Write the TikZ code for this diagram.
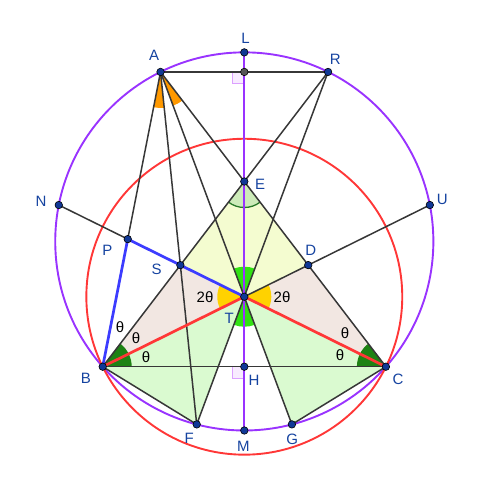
\documentclass[tikz,border=0pt]{standalone}
\usepackage{fontspec}
\setmainfont{Liberation Sans}
\definecolor{lineg}{RGB}{55,55,55}
\definecolor{purp}{RGB}{153,51,255}
\definecolor{redc}{RGB}{255,55,55}
\definecolor{bluel}{RGB}{60,60,255}
\definecolor{ptfill}{RGB}{16,56,150}
\definecolor{lblc}{RGB}{21,67,160}
\definecolor{dgreen}{RGB}{30,130,20}
\definecolor{bgreen}{RGB}{50,225,20}
\definecolor{yel}{RGB}{255,210,0}
\definecolor{oran}{RGB}{255,153,0}
\definecolor{egreen}{RGB}{205,235,185}
\definecolor{earc}{RGB}{40,120,40}
\definecolor{lgreen}{RGB}{218,250,208}
\definecolor{beige}{RGB}{242,231,226}
\definecolor{lyellow}{RGB}{244,252,208}
\definecolor{rafill}{RGB}{248,235,255}
\definecolor{radraw}{RGB}{220,160,255}
\begin{document}
\begin{tikzpicture}[x=1pt,y=1pt,
  seg/.style={draw=lineg,line width=1.5pt},
  blueseg/.style={draw=bluel,line width=2.7pt},
  redseg/.style={draw=redc,line width=2.7pt},
  purpline/.style={draw=purp,line width=1.9pt},
  redcirc/.style={draw=redc,line width=1.9pt},
  pt/.style={circle,draw=black,fill=ptfill,line width=0.6pt,inner sep=0pt,minimum size=7.5pt},
  gpt/.style={circle,draw=black,fill=lineg!85,line width=0.6pt,inner sep=0pt,minimum size=7.5pt},
  lbl/.style={text=lblc,font=\fontsize{15}{17}\selectfont,inner sep=0pt},
  tlbl/.style={text=black,font=\fontsize{15}{17}\selectfont,inner sep=0pt},
  rightang/.style={fill=rafill,draw=radraw,line width=1pt}]
\useasboundingbox (0,0) rectangle (500,492);
% points
\coordinate (A) at (160.53,420.05);
\coordinate (R) at (328.07,420.05);
\coordinate (K) at (244.3,420.05);
\coordinate (L) at (244.3,439.62);
\coordinate (M) at (244.3,61.51);
\coordinate (O) at (244.3,250.57);
\coordinate (B) at (102.7,125.3);
\coordinate (C) at (385.9,125.3);
\coordinate (H) at (244.3,125.3);
\coordinate (T) at (244.3,195.28);
\coordinate (E) at (244.3,310.5);
\coordinate (S) at (180.36,226.88);
\coordinate (D) at (308.24,226.88);
\coordinate (P) at (127.73,252.89);
\coordinate (N) at (58.78,286.97);
\coordinate (U) at (429.82,286.97);
\coordinate (F) at (196.72,67.60);
\coordinate (G) at (291.88,67.60);
% region fills
\fill[lgreen] (B) -- (T) -- (F) -- cycle;
\fill[lgreen] (C) -- (T) -- (G) -- cycle;
\fill[beige] (B) -- (S) -- (T) -- cycle;
\fill[beige] (C) -- (D) -- (T) -- cycle;
\fill[lyellow] (E) -- (S) -- (T) -- (D) -- cycle;
% angle sectors
\fill[dgreen] (B) -- ++(0:29) arc[start angle=0,end angle=52.6,radius=29] -- cycle;
\fill[dgreen] (C) -- ++(127.4:29) arc[start angle=127.4,end angle=180,radius=29] -- cycle;
\fill[egreen] (E) -- ++(232.6:26) arc[start angle=232.6,end angle=307.4,radius=26] -- cycle;
\draw[earc,line width=1.3pt] ([shift={(232.6:26)}]E) arc[start angle=232.6,end angle=307.4,radius=26];
\fill[yel] (T) -- ++(153.7:27) arc[start angle=153.7,end angle=206.3,radius=27] -- cycle;
\fill[yel] (T) -- ++(-26.3:27) arc[start angle=-26.3,end angle=26.3,radius=27] -- cycle;
\fill[bgreen] (T) -- ++(69.56:30) arc[start angle=69.56,end angle=110.44,radius=30] -- cycle;
\fill[bgreen] (T) -- ++(249.56:30) arc[start angle=249.56,end angle=290.44,radius=30] -- cycle;
\fill[oran] (A) -- ++(258.9:36) arc[start angle=258.9,end angle=275.86,radius=36] -- cycle;
\fill[oran] (A) -- ++(290.44:36) arc[start angle=290.44,end angle=307.4,radius=36] -- cycle;
% right angle marks
\draw[rightang] (K) -- ++(-12,0) -- ++(0,-12) -- ++(12,0);
\draw[rightang] (H) -- ++(-12,0) -- ++(0,-12) -- ++(12,0);
% circles
\draw[purpline] (O) circle[radius=189.06];
\draw[redcirc] (T) circle[radius=157.95];
% segments
\draw[seg] (A) -- (R);
\draw[seg] (A) -- (P);
\draw[seg] (A) -- (F);
\draw[seg] (A) -- (G);
\draw[seg] (A) -- (C);
\draw[seg] (R) -- (B);
\draw[seg] (R) -- (F);
\draw[seg] (B) -- (C);
\draw[seg] (B) -- (F);
\draw[seg] (C) -- (G);
\draw[seg] (N) -- (P);
\draw[seg] (T) -- (U);
\draw[purpline] (L) -- (M);
\draw[blueseg] (B) -- (P) -- (T);
\draw[redseg] (B) -- (T) -- (C);
% point markers
\foreach \p in {A,R,L,M,B,C,H,T,E,S,D,P,N,U,F,G}
  \node[pt] (pt\p) at (\p) {};
\node[gpt] (ptK) at (K) {};
% labels
\node[lbl] (lA) at (154,437) {A};
\node[lbl] (lL) at (245.5,453.7) {L};
\node[lbl] (lR) at (335.3,432.5) {R};
\node[lbl] (lN) at (41,290.3) {N};
\node[lbl] (lU) at (442.3,292.7) {U};
\node[lbl] (lE) at (260,308) {E};
\node[lbl] (lP) at (107.3,242) {P};
\node[lbl] (lS) at (156.5,222.5) {S};
\node[lbl] (lD) at (310.7,241.3) {D};
\node[lbl] (lT) at (229.3,173.7) {T};
\node[lbl] (lB) at (86,114) {B};
\node[lbl] (lC) at (398,113) {C};
\node[lbl] (lH) at (254,111.3) {H};
\node[lbl] (lF) at (189.3,53.7) {F};
\node[lbl] (lM) at (243.3,45.3) {M};
\node[lbl] (lG) at (292.3,52.7) {G};
\node[tlbl] (th1) at (120,165) {θ};
\node[tlbl] (th2) at (136,154) {θ};
\node[tlbl] (th3) at (146,135) {θ};
\node[tlbl] (th4) at (345,159) {θ};
\node[tlbl] (th5) at (340,137) {θ};
\node[tlbl] (tt1) at (205,195) {2θ};
\node[tlbl] (tt2) at (282,195) {2θ};
\end{tikzpicture}
\end{document}
